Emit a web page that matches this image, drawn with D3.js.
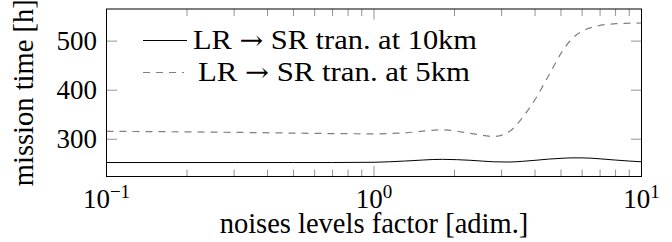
<!DOCTYPE html>
<html>
<head>
<meta charset="utf-8">
<script src="https://cdn.jsdelivr.net/npm/d3@7"></script>
<style>
body { margin: 0; background: white; }
text { font-family: "Liberation Serif", serif; fill: black; }
.arrow { font-family: "DejaVu Serif", serif; }
</style>
</head>
<body>
<svg id="svg" width="672" height="242"></svg>
<script>
var noiseFactor = [0.1, 0.2, 0.3, 0.5, 0.7, 1, 1.3, 1.8, 2.3, 2.8, 3.2, 3.6, 4, 4.5, 5, 5.5, 6, 7, 8, 9, 10];
var tran10km = [252.5, 252.5, 252.5, 252.5, 252.5, 253, 255.5, 259, 257, 254, 253.5, 255, 257, 259.5, 261, 262, 262, 260, 257.5, 255.5, 254];
var tran5km = [316, 315, 314, 312.5, 311.5, 311, 313, 319, 312, 305.5, 315.5, 345, 381, 430, 475, 505, 520, 532, 535.5, 536.5, 537];
var seriesNames = [['LR ', '\u2192', ' SR tran. at 10km'], ['LR ', '\u2192', ' SR tran. at 5km']];
var yTicks = [300, 400, 500];
var xMajor = [0.1, 1, 10];
var xTickExp = ['\u22121', '0', '1'];

var plotLeft = 106.5, plotRight = 641.5, plotTop = 9, plotBottom = 176.5;

var svg = d3.select('svg');

var x = d3.scaleLog()
    .domain([0.1, 10])
    .range([plotLeft, plotRight]);

var y = d3.scaleLinear()
    .domain([224, 565.5])
    .range([plotBottom, plotTop]);

// minor ticks 2..9 in each decade
var xMinor = [];
[0.1, 1].forEach(function (d) {
    for (var k = 2; k <= 9; k++) xMinor.push(d * k);
});

var ticks = svg.append('g')
    .attr('stroke', '#777')
    .attr('stroke-width', 0.8);

xMinor.forEach(function (d) {
    ticks.append('line').attr('x1', x(d)).attr('x2', x(d)).attr('y1', plotBottom).attr('y2', plotBottom - 7);
    ticks.append('line').attr('x1', x(d)).attr('x2', x(d)).attr('y1', plotTop).attr('y2', plotTop + 7);
});
xMajor.forEach(function (d) {
    ticks.append('line').attr('x1', x(d)).attr('x2', x(d)).attr('y1', plotBottom).attr('y2', plotBottom - 10.5);
    ticks.append('line').attr('x1', x(d)).attr('x2', x(d)).attr('y1', plotTop).attr('y2', plotTop + 10.5);
});
yTicks.forEach(function (d) {
    ticks.append('line').attr('x1', plotLeft).attr('x2', plotLeft + 10.5).attr('y1', y(d)).attr('y2', y(d));
    ticks.append('line').attr('x1', plotRight).attr('x2', plotRight - 10.5).attr('y1', y(d)).attr('y2', y(d));
});

var line = d3.line()
    .x(function (d) { return x(d[0]); })
    .y(function (d) { return y(d[1]); })
    .curve(d3.curveMonotoneX);

svg.append('path')
    .datum(d3.zip(noiseFactor, tran10km))
    .attr('d', line)
    .attr('fill', 'none')
    .attr('stroke', 'black')
    .attr('stroke-width', 1);

svg.append('path')
    .datum(d3.zip(noiseFactor, tran5km))
    .attr('d', line)
    .attr('fill', 'none')
    .attr('stroke', '#808080')
    .attr('stroke-width', 1.2)
    .attr('stroke-dasharray', '7,6');

svg.append('rect')
    .attr('x', plotLeft)
    .attr('y', plotTop)
    .attr('width', plotRight - plotLeft)
    .attr('height', plotBottom - plotTop)
    .attr('fill', 'none')
    .attr('stroke', 'black')
    .attr('stroke-width', 1);

// tick labels
yTicks.forEach(function (d) {
    svg.append('text')
        .attr('x', 97)
        .attr('y', y(d) + 8.5)
        .attr('text-anchor', 'end')
        .attr('font-size', 27)
        .text(d);
});

xMajor.forEach(function (d, i) {
    var t = svg.append('text')
        .attr('x', x(d))
        .attr('y', 208)
        .attr('text-anchor', 'middle')
        .attr('font-size', 27);
    t.append('tspan').text('10');
    t.append('tspan')
        .attr('dy', -10)
        .attr('font-size', 19)
        .text(xTickExp[i]);
});

svg.append('text')
    .attr('x', (plotLeft + plotRight) / 2)
    .attr('y', 233)
    .attr('text-anchor', 'middle')
    .attr('font-size', 28.5)
    .text('noises levels factor [adim.]');

svg.append('text')
    .attr('transform', 'translate(33,' + (plotTop + plotBottom) / 2 + ') rotate(-90)')
    .attr('text-anchor', 'middle')
    .attr('font-size', 28.5)
    .text('mission time [h]');

// legend
svg.append('line')
    .attr('x1', 143).attr('x2', 187)
    .attr('y1', 40.5).attr('y2', 40.5)
    .attr('stroke', 'black')
    .attr('stroke-width', 1);

svg.append('line')
    .attr('x1', 143).attr('x2', 184)
    .attr('y1', 72.5).attr('y2', 72.5)
    .attr('stroke', '#808080')
    .attr('stroke-width', 1.2)
    .attr('stroke-dasharray', '7,6');

[[193, 48.5, 284], [198, 80.7, 272]].forEach(function (p, i) {
    var t = svg.append('text')
        .attr('x', p[0])
        .attr('y', p[1])
        .attr('font-size', 28)
        .attr('textLength', p[2])
        .attr('lengthAdjust', 'spacingAndGlyphs');
    t.append('tspan').text(seriesNames[i][0]);
    t.append('tspan').attr('class', 'arrow').attr('font-size', 26).text(seriesNames[i][1]);
    t.append('tspan').text(seriesNames[i][2]);
});
</script>
</body>
</html>
